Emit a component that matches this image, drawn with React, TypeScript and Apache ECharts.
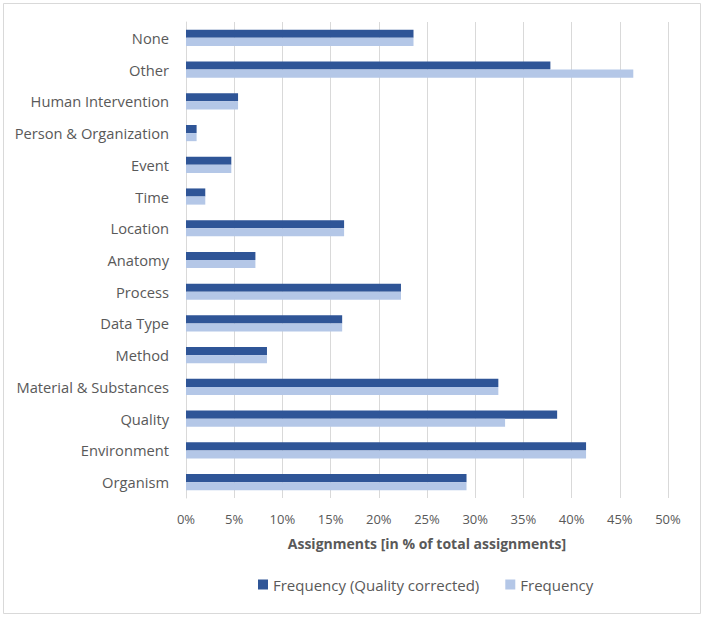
import React, { useEffect, useRef } from "react";
import * as echarts from "echarts";

const categories = [
  "None",
  "Other",
  "Human Intervention",
  "Person & Organization",
  "Event",
  "Time",
  "Location",
  "Anatomy",
  "Process",
  "Data Type",
  "Method",
  "Material & Substances",
  "Quality",
  "Environment",
  "Organism",
];

const qualityCorrected = [23.6, 37.8, 5.4, 1.1, 4.7, 2.0, 16.4, 7.2, 22.3, 16.2, 8.4, 32.4, 38.5, 41.5, 29.1];
const frequency = [23.6, 46.4, 5.4, 1.1, 4.7, 2.0, 16.4, 7.2, 22.3, 16.2, 8.4, 32.4, 33.1, 41.5, 29.1];

const xTicks = { min: 0, max: 50, interval: 5 };

const FONT = "Open Sans";
const TEXT = "#595959";

export default function App() {
  const ref = useRef<HTMLDivElement>(null);
  useEffect(() => {
    if (!ref.current) return;
    const chart = echarts.init(ref.current, null, { renderer: "svg" });
    chart.setOption({
      animation: false,
      backgroundColor: "#ffffff",
      textStyle: { fontFamily: FONT },
      graphic: [
        {
          type: "rect",
          shape: { x: 3.5, y: 3.5, width: 697, height: 610 },
          style: { fill: "none", stroke: "#D9D9D9", lineWidth: 1 },
          silent: true,
        },
      ],
      grid: { left: 186, right: 36, top: 22, bottom: 119, containLabel: false },
      legend: {
        top: 572,
        left: 253,
        itemWidth: 10,
        itemHeight: 10,
        itemGap: 26,
        icon: "rect",
        textStyle: { color: TEXT, fontSize: 15, fontFamily: FONT },
        data: ["Frequency (Quality corrected)", "Frequency"],
      },
      xAxis: {
        type: "value",
        min: xTicks.min,
        max: xTicks.max,
        interval: xTicks.interval,
        axisLabel: {
          formatter: (v: number) => v + "%",
          color: TEXT,
          fontSize: 13,
          margin: 14,
          fontFamily: FONT,
        },
        axisLine: { show: false },
        axisTick: { show: false },
        splitLine: { lineStyle: { color: "#D9D9D9", width: 1 } },
        name: "Assignments [in % of total assignments]",
        nameLocation: "middle",
        nameGap: 38,
        nameTextStyle: { color: TEXT, fontSize: 14, fontWeight: "bold", fontFamily: FONT },
      },
      yAxis: {
        type: "category",
        inverse: true,
        data: categories,
        axisLine: { show: true, lineStyle: { color: "#D9D9D9" } },
        axisTick: { show: false },
        axisLabel: { color: TEXT, fontSize: 14.7, margin: 17, fontFamily: FONT },
      },
      series: [
        {
          name: "Frequency (Quality corrected)",
          type: "bar",
          data: qualityCorrected,
          itemStyle: { color: "#2F5597" },
          barGap: "0%",
          barCategoryGap: "49%",
        },
        {
          name: "Frequency",
          type: "bar",
          data: frequency,
          itemStyle: { color: "#B4C7E7" },
          barGap: "0%",
          barCategoryGap: "49%",
        },
      ],
    });
    return () => chart.dispose();
  }, []);
  return (
    <div
      ref={ref}
      style={{ position: "fixed", left: 0, top: 0, width: 704, height: 617 }}
    />
  );
}
